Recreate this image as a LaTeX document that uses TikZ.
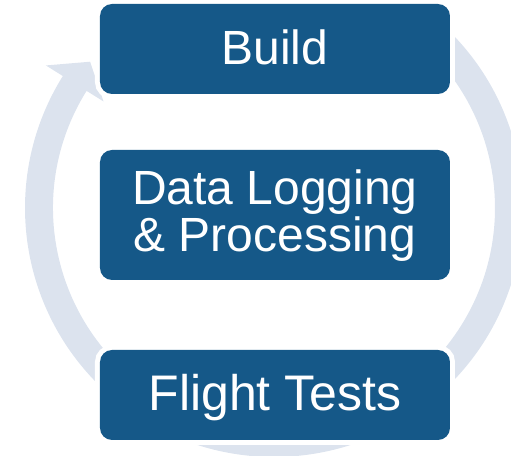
\documentclass[tikz,border=0pt]{standalone}
\usepackage{fontspec}
\setmainfont{Liberation Sans}
\usetikzlibrary{calc}
\definecolor{boxblue}{HTML}{155888}
\definecolor{ringcol}{HTML}{DCE3EE}
\tikzset{
  box/.style={rectangle, rounded corners=6pt, fill=boxblue,
    preaction={draw=white, line width=5pt},
    minimum width=175pt, inner sep=0pt, outer sep=0pt},
  lbl/.style={text=white, anchor=base, inner sep=0pt,
    font=\fontsize{24}{24}\selectfont},
}
\begin{document}
\begin{tikzpicture}[x=0.5pt, y=0.5pt]
\useasboundingbox (0,0) rectangle (511,456);
\coordinate (c) at (274,248);
% circular arrow
\fill[ringcol] ($(c)+(45:249)$) arc[start angle=45, end angle=-212, radius=249]
  -- ($(c)+(148:269)$) -- ($(c)+(141.5:235)$) -- ($(c)+(148:201)$)
  -- ($(c)+(148:221)$) arc[start angle=-212, end angle=45, radius=221] -- cycle;
% boxes
\node[box, minimum height=45pt] (build) at (275,407) {};
\node[box, minimum height=65pt] (data) at (275,241) {};
\node[box, minimum height=45pt] (flight) at (275,61) {};
% labels
\node[lbl] (buildtxt) at (275,391) {Build};
\node[lbl] (dataA) at (275,251) {Data Logging};
\node[lbl] (dataB) at (275,204) {\& Processing};
\node[lbl, font=\fontsize{25}{25}\selectfont] (flighttxt) at (275,45) {Flight Tests};
\end{tikzpicture}
\end{document}
